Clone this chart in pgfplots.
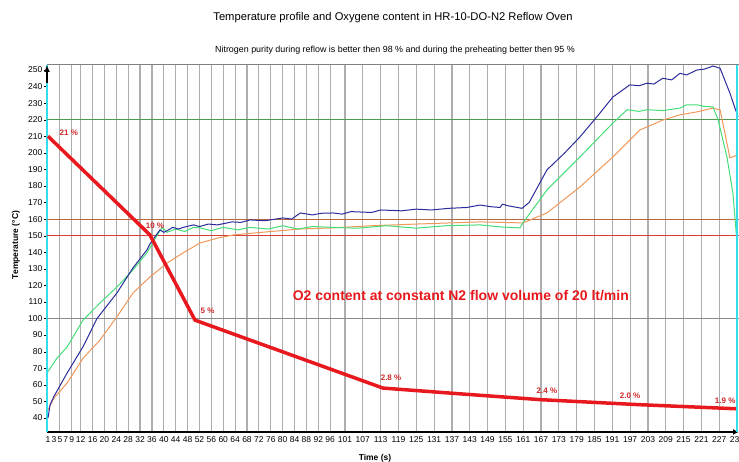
\documentclass[border=0pt]{standalone}
\usepackage{fontspec}
\setmainfont{Liberation Sans}
\usepackage{pgfplots}
\pgfplotsset{compat=1.18}
\usetikzlibrary{arrows.meta}
\definecolor{tblue}{HTML}{2B2B9C}
\definecolor{tgreen}{HTML}{44DD77}
\definecolor{torange}{HTML}{F0985A}
\definecolor{ored}{HTML}{E8191E}
\definecolor{gridg}{HTML}{ADADAD}
\definecolor{axcyan}{HTML}{33DDEE}
\definecolor{lgreen}{HTML}{4E9A4E}
\definecolor{lbrown}{HTML}{B8683F}
\definecolor{lred}{HTML}{D83A3A}
\definecolor{lgray}{HTML}{8A8A8A}
\definecolor{labred}{HTML}{D02828}
\begin{document}
\begin{tikzpicture}[x=1pt,y=1pt]
\begin{axis}[
  at={(0,0)}, anchor=south west,
  scale only axis, width=692pt, height=367pt,
  xmin=0.66, xmax=233.66, ymin=31.5, ymax=253,
  clip=false,
  axis x line=bottom, axis y line=left,
  x axis line style={black, line width=1.3pt, -{Latex[length=6pt,width=6pt]}},
  y axis line style={axcyan, line width=1.6pt, -},
  xtick={5,9,12,16,20,24,28,32,36,40,44,48,52,56,60,64,68,72,76,80,84,88,92,96,101,107,113,119,125,131,137,143,149,155,161,167,173,179,185,191,197,203,209,215,221,227,233},
  extra x ticks={1,3,7},
  extra x tick style={grid=none},
  xtick style={draw=none},
  ytick={40,50,...,250},
  ytick style={black},
  tick align=outside,
  major tick length=3pt,
  xmajorgrids=true,
  major x grid style={gridg, line width=1.2pt},
  tick label style={font=\fontsize{8.5}{9}\selectfont},
  xticklabel style={inner sep=1.5pt},
  yticklabel style={inner sep=1.5pt},
  /pgf/number format/assume math mode=true,
  /pgf/number format/1000 sep={},
]
% reference lines
\addplot[lgray, line width=1pt] coordinates {(0.66,100) (233.66,100)};
\addplot[lred, line width=1pt] coordinates {(0.66,150) (233.66,150)};
\addplot[lbrown, line width=1pt] coordinates {(0.66,160) (233.66,160)};
\addplot[lgreen, line width=1pt] coordinates {(0.66,220) (233.66,220)};
% orange
\addplot[torange, line width=1pt] coordinates {
(1,44.8) (3,52) (7.4,61) (12.8,76) (18.5,87) (24.2,101) (29.6,115.4) (35.3,125)
(41.1,133.5) (46.5,139.6) (52.2,145.6) (58,148.5) (63.3,150.4) (74.7,152.3) (85.8,154)
(96.9,154.7) (110,156) (125,157) (146.5,158.3) (160.9,157.7) (169,163.7) (180.1,179.4)
(191.2,197.5) (200.3,213.8) (208.1,219.8) (213.8,222.9) (219.5,224.7) (224.9,227)
(227.3,225.9) (230.6,197) (233.3,198.7)};
% green
\addplot[tgreen, line width=1pt] coordinates {
(1,68) (4,76) (7.4,82.8) (12.8,99) (18.5,109.4) (24.2,119) (29.6,129.3) (34.3,139.6)
(37,148) (39.4,155) (41,152) (44,154) (47,152.5) (50,155) (52.2,154.7) (56,153) (60,155)
(65,153.5) (69,155) (75,154) (80.1,156) (85,154) (90,155.5) (96.9,155) (105,154.5)
(115,156) (125,154.5) (135,156) (146.5,156.5) (153.2,155.3) (159.9,154.7) (160.9,157.7)
(169,177.6) (180.1,197.5) (191.2,218) (196,226) (200,225) (202.7,226) (208,225.5)
(213.8,227) (216,229) (219.5,229) (222,228) (224.9,227.7) (226.6,220) (229.6,197.5)
(231.6,175.8) (233,145.6)};
% blue
\addplot[tblue, line width=1pt] coordinates {
(1,40) (1.7,48) (3.0,53) (7.4,67) (12.8,83) (17.5,100) (24.2,115.4) (29.6,130.5)
(34.3,141.4) (35.3,145) (38.7,153.5) (40,152) (41.1,153) (43,155) (45,154) (46.5,155)
(50,156.5) (52,155.5) (55,157) (58,156.5) (63,158.3) (66,158) (69,159.5) (74,159)
(80.1,160.7) (83,160) (86,163.7) (90,162.5) (93,163.5) (97,163.7) (100,163) (103,164.5)
(110,164) (113,165.5) (120,165) (125,166) (130,165.5) (136,166.5) (142,167) (146.5,168.5)
(150,167.5) (153.2,167) (154,169) (156,168) (160.6,166.5) (163,170) (169,189.7) (175,200)
(180.1,209.6) (185.8,221.7) (191.2,233.7) (196.9,241) (200,240.5) (202.7,242) (205,241.5)
(208,245) (211,244) (213.8,248) (216,247) (219.5,250) (222,250.5) (224.9,252.4)
(227.3,251) (230.6,236) (233.3,221.7)};
% O2 content
\addplot[ored, line width=3.5pt, line join=round] coordinates {
(1,210) (35.3,150.5) (50.5,99) (113.8,58) (140,54.5) (167,51) (200,48) (233,45.5)};
% O2 labels
\node[font=\bfseries\fontsize{8}{9}\selectfont, text=labred] at (axis cs:8,212) {21 \%};
\node[font=\bfseries\fontsize{8}{9}\selectfont, text=labred] at (axis cs:37,156) {10 \%};
\node[font=\bfseries\fontsize{8}{9}\selectfont, text=labred] at (axis cs:54.7,104.6) {5 \%};
\node[font=\bfseries\fontsize{8}{9}\selectfont, text=labred] at (axis cs:116.5,64) {2.8 \%};
\node[font=\bfseries\fontsize{8}{9}\selectfont, text=labred] at (axis cs:169,56.3) {2.4 \%};
\node[font=\bfseries\fontsize{8}{9}\selectfont, text=labred] at (axis cs:197,53.3) {2.0 \%};
\node[font=\bfseries\fontsize{8}{9}\selectfont, text=labred] at (axis cs:229,50.3) {1.9 \%};
\node[font=\bfseries\fontsize{14}{16}\selectfont, text=ored] at (axis cs:140,113.6) {O2 content at constant N2 flow volume of 20 lt/min};
% frame decorations
\draw[gray, line width=1pt] (rel axis cs:0,1) -- (rel axis cs:1,1);
\draw[axcyan, line width=1.6pt] (rel axis cs:0.997,0) -- (rel axis cs:0.997,1);
\draw[black, line width=1.3pt, -{Latex[length=7pt,width=6pt]}] (rel axis cs:0,0.95) -- (rel axis cs:0,1);
\end{axis}
\node[font=\fontsize{11.2}{13}\selectfont] at (346,414) {Temperature profile and Oxygene content in HR-10-DO-N2 Reflow Oven};
\node[font=\fontsize{8.9}{10}\selectfont] at (348,382) {Nitrogen purity during reflow is better then 98 \% and during the preheating better then 95 \%};
\node[font=\bfseries\fontsize{8.5}{10}\selectfont] at (328,-26) {Time (s)};
\node[font=\bfseries\fontsize{8.5}{10}\selectfont, rotate=90] at (-31,187) {Temperature (°C)};
\pgfresetboundingbox
\path[use as bounding box] (-47,-29) rectangle (692,432);
\end{tikzpicture}
\end{document}
